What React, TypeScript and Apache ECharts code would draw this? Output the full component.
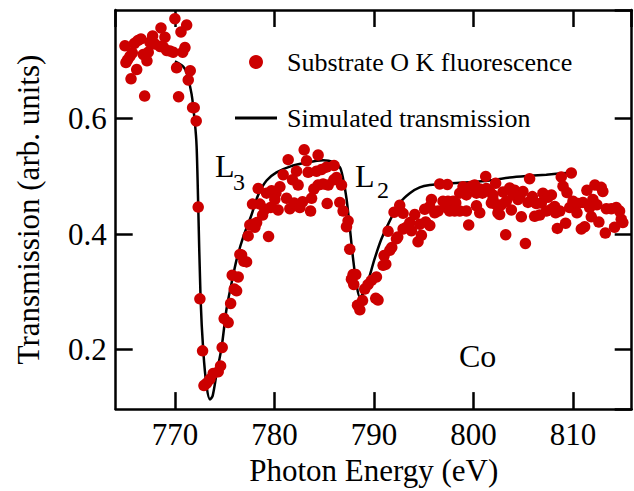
import React, { useEffect, useRef } from "react";
import * as echarts from "echarts";

const FONT = "'Liberation Serif', 'Times New Roman', serif";

const fluorX = [
  764.98, 765.08, 765.25, 765.49, 765.59, 765.72, 765.92, 766.16, 766.26, 766.59,
  766.82, 766.96, 767.19, 767.32, 767.49, 767.76, 767.99, 768.5, 768.6, 768.83,
  769.0, 769.17, 769.5, 769.83, 770.0, 770.17, 770.37, 770.61, 770.78, 771.01,
  771.18, 771.34, 771.54, 771.78, 771.94, 772.14,
  772.34, 772.51, 772.78, 772.92, 773.19, 773.52, 773.85, 774.35, 774.59, 774.75,
  774.95, 775.35, 775.6, 775.96, 776.2, 775.76, 776.36, 776.53, 776.7, 776.93,
  777.2, 777.36, 777.53, 777.86, 778.21, 778.04, 779.41, 777.8, 778.54, 778.81,
  779.04, 779.61, 780.37, 778.37, 779.21, 779.71, 780.14, 780.55, 780.04, 781.22,
  781.55, 781.98, 782.55, 782.82, 783.63, 783.73, 783.96, 784.39, 784.89, 785.3,
  785.4, 785.97, 786.24, 786.74, 786.57, 786.9, 787.4, 787.24, 787.57, 787.9,
  787.74, 788.17, 787.97, 788.35, 788.58, 788.85,
  782.99, 784.39, 783.23, 781.38, 780.88, 782.22, 783.39, 784.23, 784.73, 785.23,
  785.99, 781.82, 782.38,
  789.07, 789.41, 789.75, 790.25, 790.41, 790.18, 790.92, 791.19, 791.02, 791.59,
  791.79, 792.26, 792.39, 791.42, 792.02, 792.59, 792.93, 792.93, 793.27, 793.6,
  793.77, 794.1, 794.43, 794.77, 794.6, 795.2, 795.61, 795.1, 795.61, 795.78,
  796.11, 796.44, 796.61, 797.38, 796.94, 797.44, 797.95, 798.22, 797.28, 797.61,
  798.11, 798.62, 799.29, 799.52, 798.95, 798.62, 799.29, 799.79, 800.12, 800.3,
  800.63, 800.9, 800.3, 800.63, 801.23, 801.3, 801.63, 801.96, 802.23, 802.3,
  802.46,
  802.97, 803.64, 804.14, 804.97, 805.64, 808.82, 809.83, 809.0, 809.4, 801.96,
  802.8, 803.3, 803.97, 804.47, 804.64, 805.92, 805.48, 806.32, 806.82, 806.98,
  807.83, 807.49, 802.63, 803.81, 804.81, 806.15, 806.65, 807.32, 807.83, 808.16,
  808.26, 808.67, 809.67, 810.0, 810.5, 811.0, 811.4, 812.2, 812.84, 813.0,
  812.0, 812.4, 811.67, 810.4, 811.84, 812.6, 813.35, 813.85, 814.35, 814.68,
  814.85, 815.01, 814.18, 813.25, 811.17, 810.84, 809.26, 808.43, 803.24, 805.22,
  801.8,
];

const fluorY = [
  0.726, 0.697, 0.702, 0.708, 0.669, 0.714, 0.73, 0.685, 0.735, 0.738,
  0.711, 0.639, 0.7, 0.715, 0.732, 0.743, 0.729, 0.725, 0.757, 0.724,
  0.741, 0.718, 0.717, 0.715, 0.773, 0.688, 0.638, 0.75, 0.715, 0.723,
  0.762, 0.667, 0.683, 0.619, 0.619, 0.596,
  0.447, 0.288, 0.198, 0.138, 0.142, 0.149, 0.159, 0.162, 0.172, 0.204,
  0.254, 0.247, 0.28, 0.305, 0.302, 0.329, 0.326, 0.365, 0.364, 0.353,
  0.352, 0.397, 0.416, 0.417, 0.42, 0.412, 0.396, 0.452, 0.452, 0.433,
  0.443, 0.446, 0.442, 0.479, 0.471, 0.475, 0.471, 0.482, 0.46, 0.462,
  0.444, 0.454, 0.446, 0.456, 0.44, 0.462, 0.478, 0.485, 0.487, 0.453,
  0.485, 0.494, 0.498, 0.485, 0.455, 0.44, 0.423, 0.413, 0.374, 0.33,
  0.322, 0.33, 0.313, 0.277, 0.269, 0.285,
  0.546, 0.537, 0.527, 0.529, 0.503, 0.509, 0.507, 0.509, 0.512, 0.516,
  0.519, 0.494, 0.485,
  0.305, 0.313, 0.32, 0.326, 0.286, 0.289, 0.346, 0.348, 0.363, 0.372,
  0.377, 0.392, 0.395, 0.405, 0.438, 0.45, 0.436, 0.409, 0.412, 0.42,
  0.406, 0.434, 0.387, 0.398, 0.417, 0.421, 0.415, 0.443, 0.448, 0.46,
  0.437, 0.44, 0.487, 0.486, 0.457, 0.457, 0.457, 0.454, 0.446, 0.44,
  0.44, 0.44, 0.44, 0.416, 0.482, 0.471, 0.468, 0.483, 0.485, 0.471,
  0.478, 0.471, 0.449, 0.437, 0.5, 0.479, 0.474, 0.468, 0.488, 0.451,
  0.437,
  0.473, 0.48, 0.476, 0.474, 0.496, 0.499, 0.506, 0.483, 0.472, 0.46,
  0.451, 0.457, 0.468, 0.46, 0.465, 0.465, 0.455, 0.453, 0.454, 0.471,
  0.468, 0.464, 0.434, 0.442, 0.43, 0.431, 0.433, 0.44, 0.443, 0.448,
  0.437, 0.44, 0.446, 0.457, 0.453, 0.455, 0.476, 0.485, 0.481, 0.474,
  0.46, 0.451, 0.446, 0.437, 0.43, 0.421, 0.444, 0.444, 0.446, 0.44,
  0.426, 0.42, 0.412, 0.402, 0.413, 0.409, 0.419, 0.41, 0.399, 0.384,
  0.454,
];

const simX = [
  770.0, 770.84, 771.18, 771.68, 772.01, 772.18, 772.34, 772.58, 772.85, 773.19,
  773.52, 773.79, 774.19, 774.69, 775.19, 775.7, 776.2, 776.86, 777.71, 778.37,
  779.21, 780.21, 781.55, 783.23, 784.89, 785.9, 786.57, 786.9, 787.24, 787.57,
  787.9, 788.25, 788.58, 788.91, 789.41, 790.08, 790.76, 791.59, 792.59, 793.6,
  794.6, 795.61, 797.61, 799.62, 801.63, 803.64, 805.64, 807.32, 809.33, 809.96,
];

const simY = [
  0.699, 0.69, 0.679, 0.642, 0.592, 0.552, 0.451, 0.288, 0.198, 0.136,
  0.114, 0.12, 0.159, 0.204, 0.271, 0.316, 0.356, 0.395, 0.434, 0.468,
  0.493, 0.507, 0.517, 0.524, 0.528, 0.525, 0.516, 0.496, 0.462, 0.412,
  0.358, 0.313, 0.291, 0.297, 0.319, 0.358, 0.392, 0.423, 0.454, 0.471,
  0.481, 0.485, 0.488, 0.49, 0.493, 0.498, 0.501, 0.503, 0.506, 0.507,
];

const X_MIN = 764.05;
const X_MAX = 815.9;
const Y_MIN = 0.0972;
const Y_MAX = 0.788;

const SERIES_FLUOR = "Substrate O K fluorescence";
const SERIES_SIM = "Simulated transmission";

export default function App() {
  const ref = useRef<HTMLDivElement>(null);

  useEffect(() => {
    document.body.style.margin = "0";
    if (!ref.current) return;
    const chart = echarts.init(ref.current, undefined, { renderer: "svg" });

    const axisLine = { show: true, lineStyle: { color: "#000", width: 2.5 } };
    const axisTick = {
      show: true,
      inside: true,
      length: 17,
      lineStyle: { color: "#000", width: 2.5 },
    };
    const labelStyle = { color: "#000", fontFamily: FONT, fontSize: 31 };

    chart.setOption({
      animation: false,
      backgroundColor: "#fff",
      textStyle: { fontFamily: FONT },
      grid: { left: 115.7, right: 2.3, top: 10, bottom: 71, containLabel: false },
      xAxis: [
        {
          type: "value",
          position: "bottom",
          min: X_MIN,
          max: X_MAX,
          splitNumber: 5,
          axisLine,
          axisTick,
          splitLine: { show: false },
          axisLabel: {
            ...labelStyle,
            margin: 10,
            showMinLabel: false,
            showMaxLabel: false,
            formatter: (v: number) => (Math.abs(v % 10) < 1e-6 ? String(v) : ""),
          },
          name: "Photon Energy (eV)",
          nameLocation: "middle",
          nameGap: 36,
          nameTextStyle: labelStyle,
        },
        {
          type: "value",
          position: "top",
          min: X_MIN,
          max: X_MAX,
          splitNumber: 5,
          axisLine,
          axisTick,
          splitLine: { show: false },
          axisLabel: { show: false },
        },
      ],
      yAxis: [
        {
          type: "value",
          position: "left",
          min: Y_MIN,
          max: Y_MAX,
          splitNumber: 3,
          axisLine,
          axisTick,
          splitLine: { show: false },
          axisLabel: {
            ...labelStyle,
            margin: 9,
            showMinLabel: false,
            showMaxLabel: false,
            formatter: (v: number) => {
              const r = Math.round(v * 10) / 10;
              return Math.abs(v - r) < 1e-6 ? r.toFixed(1) : "";
            },
          },
          name: "Transmission (arb. units)",
          nameLocation: "middle",
          nameGap: 72,
          nameTextStyle: labelStyle,
        },
        {
          type: "value",
          position: "right",
          min: Y_MIN,
          max: Y_MAX,
          splitNumber: 3,
          axisLine,
          axisTick,
          splitLine: { show: false },
          axisLabel: { show: false },
        },
      ],
      legend: {
        orient: "vertical",
        left: 235,
        top: 49,
        padding: 0,
        itemWidth: 42,
        itemHeight: 14,
        itemGap: 30,
        data: [
          { name: SERIES_FLUOR, icon: "circle" },
          { name: SERIES_SIM, icon: "path://M0 0 L42 0 L42 3 L0 3 Z" },
        ],
        textStyle: {
          color: "#000",
          fontFamily: FONT,
          fontSize: 26,
          padding: [0, 0, 0, 5],
        },
      },
      series: [
        {
          name: SERIES_SIM,
          type: "line",
          xAxisIndex: 0,
          yAxisIndex: 0,
          data: simX.map((x, i) => [x, simY[i]]),
          symbol: "none",
          smooth: 0.3,
          lineStyle: { color: "#000", width: 2.5 },
          itemStyle: { color: "#000" },
          z: 2,
        },
        {
          name: SERIES_FLUOR,
          type: "scatter",
          xAxisIndex: 0,
          yAxisIndex: 0,
          data: fluorX.map((x, i) => [x, fluorY[i]]),
          symbol: "circle",
          symbolSize: 11.5,
          itemStyle: { color: "#cc0000", opacity: 1 },
          z: 3,
        },
      ],
      graphic: [
        {
          type: "text",
          x: 215,
          y: 166.2,
          style: { text: "L", fontFamily: FONT, fontSize: 32, fill: "#000", align: "left", verticalAlign: "middle" },
        },
        {
          type: "text",
          x: 233,
          y: 181.9,
          style: { text: "3", fontFamily: FONT, fontSize: 24, fill: "#000", align: "left", verticalAlign: "middle" },
        },
        {
          type: "text",
          x: 355,
          y: 176.2,
          style: { text: "L", fontFamily: FONT, fontSize: 32, fill: "#000", align: "left", verticalAlign: "middle" },
        },
        {
          type: "text",
          x: 377,
          y: 189.9,
          style: { text: "2", fontFamily: FONT, fontSize: 24, fill: "#000", align: "left", verticalAlign: "middle" },
        },
        {
          type: "text",
          x: 459,
          y: 355.9,
          style: { text: "Co", fontFamily: FONT, fontSize: 32, fill: "#000", align: "left", verticalAlign: "middle" },
        },
      ],
    });

    return () => chart.dispose();
  }, []);

  return <div ref={ref} style={{ width: 634, height: 491 }} />;
}
